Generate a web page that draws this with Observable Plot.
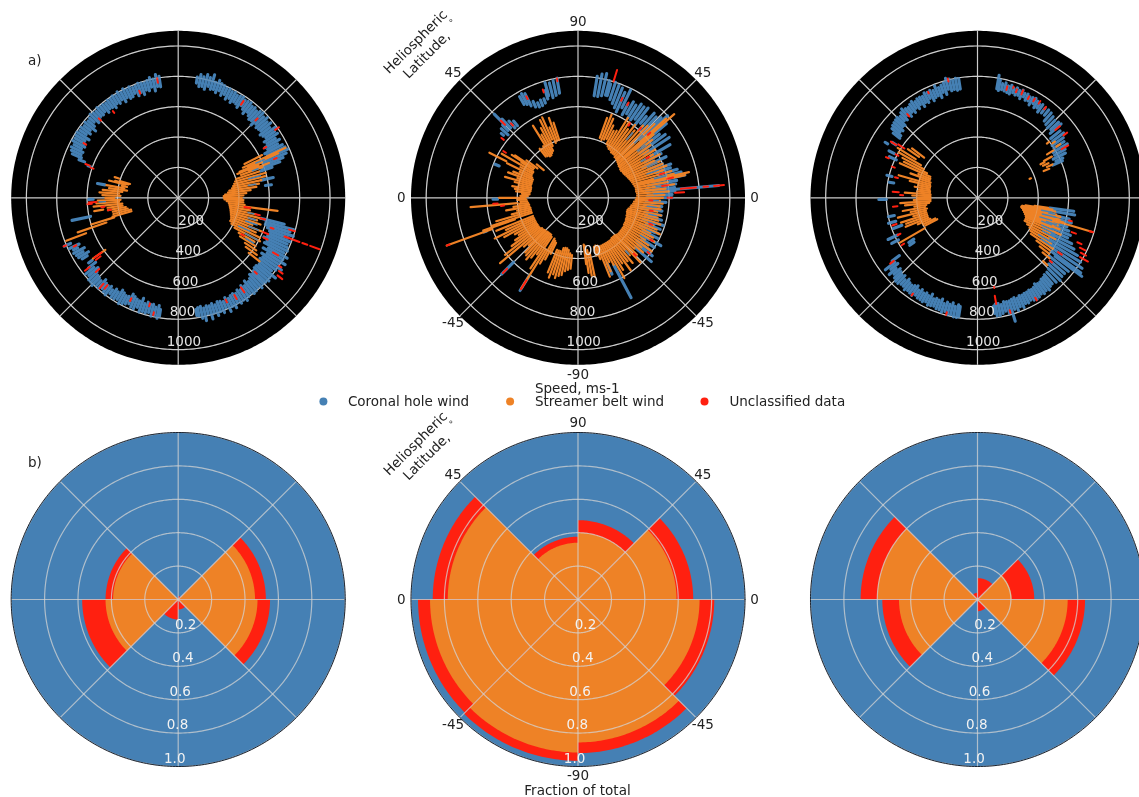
<!DOCTYPE html>
<html><head><meta charset="utf-8">
<style>html,body{margin:0;padding:0;background:#fff}svg{display:block;filter:blur(.45px)}</style>
<script src="https://cdn.jsdelivr.net/npm/d3@7"></script>
<script src="https://cdn.jsdelivr.net/npm/@observablehq/plot@0.6"></script>
</head><body><div id="chart"></div>
<script>
// ---------- values ----------
const classes=["Coronal hole wind","Streamer belt wind","Unclassified data"];
const speedTicks=[200,400,600,800,1000];
const fractionTicks=[0.2,0.4,0.6,0.8,1.0];
const spokeAngles=[0,45,90,135,180,225,270,315];
const latitudeLabels=[[0,"0"],[45,"45"],[90,"90"],[135,"45"],[180,"0"],[225,"-45"],[270,"-90"],[315,"-45"]];

// rows are [polar angle in degrees, lowest speed, highest speed]
const leftCoronal=[[81,765,805],[79.5,745,825],[78,750,815],[76.5,735,835],[75,760,820],[73.5,745,845],[72,750,800],[70.5,735,820],[69,755,805],[67.5,730,800],[66,745,790],[64.5,720,795],[63,735,785],[61.5,715,790],[60,730,780],[58.5,725,785],[57,710,790],[55.5,735,780],[54,720,785],[52.5,700,790],[51,725,775],[49.5,710,780],[48,695,770],[46.5,700,785],[45,680,790],[43.5,705,775],[42,690,790],[40.5,695,770],[39,700,785],[37.5,680,760],[36,690,790],[34.5,700,770],[33,675,780],[31.5,685,750],[30,660,770],[28.5,670,745],[27,640,770],[25.5,650,780],[24,620,790],[22.5,600,770],[21,610,740],[19.5,590,710],[18,570,650],[12,560,640],[8,580,620],
[-14,560,720],[-15.5,600,790],[-17,600,770],[-18.5,620,800],[-20,640,770],[-21.5,650,790],[-23,640,780],[-24.5,620,790],[-26,650,800],[-27.5,640,785],[-29,680,820],[-30.5,650,800],[-32,690,830],[-33.5,660,790],[-35,680,830],[-36.5,670,800],[-38,680,780],[-39.5,690,830],[-41,680,800],[-42.5,680,810],[-44,690,800],[-45.5,700,795],[-47,690,810],[-48.5,710,790],[-50,720,800],[-51.5,700,805],[-53,725,790],[-54.5,710,800],[-56,730,815],[-57.5,720,800],[-59,735,810],[-60.5,725,795],[-62,730,820],[-63.5,740,800],[-65,725,825],[-66.5,745,790],[-68,735,815],[-69.5,730,800],[-71,745,820],[-72.5,730,795],[-74,740,830],[-75.5,735,790],[-77,745,830],[-78.5,730,810],[-80,735,790],[-81,745,785],
[99,740,810],[100.5,745,825],[102,720,800],[103.5,750,815],[105,730,800],[106.5,740,790],[108,715,795],[109.5,735,800],[111,720,790],[112.5,745,785],[114,730,800],[115.5,725,790],[117,740,805],[118.5,720,790],[120,745,805],[121.5,730,790],[123,740,800],[124.5,720,790],[126,735,795],[127.5,740,785],[129,725,790],[130.5,745,790],[132,735,800],[133.5,740,785],[135,730,790],[136.5,720,800],[138,745,785],[139.5,725,780],[141,700,790],[142.5,730,780],[144,715,790],[145.5,735,785],[147,700,795],[148.5,720,790],[150,710,785],[151.5,700,790],[153,715,770],[154.5,695,780],[156,700,770],[157.5,690,755],[159,660,700],[160.5,610,630],
[170,490,540],[181,560,590],[192,590,715],[203,770,815],[205,720,790],[206.5,740,770],[208,700,780],[209.5,720,770],[211,690,765],[212.5,710,750],[216,700,730],[218,690,750],[219.5,720,790],[221,700,780],[222.5,725,800],[224,735,800],[225.5,740,810],[227,745,790],[228.5,720,795],[230,735,780],[231.5,740,790],[233,730,800],[234.5,745,775],[236,725,790],[237.5,735,790],[239,710,780],[240.5,720,800],[242,730,790],[243.5,725,780],[245,700,770],[246.5,710,785],[248,720,790],[249.5,725,770],[251,700,795],[252.5,730,785],[254,715,790],[255.5,725,780],[257,720,800],[258.5,735,790],[260,720,805],[261,745,790]];
const leftStreamer=[[27,490,620],[25,470,780],[24,500,720],[23,440,600],[22,420,570],[21,500,640],[20,440,590],[18,400,560],[16,390,600],[14,380,590],[12,370,560],[10,360,540],[8,340,520],[6,330,480],[4,310,450],[2,300,430],[0,300,420],[-2,305,430],[-4,320,430],[-6,335,440],[-7.5,440,660],[-8,340,470],[-10,345,480],[-12,350,520],[-14,355,560],[-16,360,540],[-18,365,570],[-20,370,520],[-22,375,590],[-24,375,560],[-26,390,600],[-28,420,610],[-30,460,580],[-32,480,600],[-34,530,620],[-36,550,640],[-38,590,680],
[162,410,440],[164,330,400],[165,340,430],[166,360,470],[168,345,380],[170,360,480],[172,340,460],[174,370,500],[176,390,520],[178,380,500],[180,420,480],[182,380,530],[184,390,540],[186,370,560],[188,370,470],[189,500,560],[190,350,470],[192,340,440],[194,320,440],[196,320,450],[197,440,600],[199,500,700],[201,650,790],[215.5,590,690]];
const leftMixed=[[24,560,620],[20,520,560],[15,480,560],[10,470,520],[-16,480,530],[-19,470,550],[-22,500,570],[-25,440,520],[-28,500,590],[-31,520,580],[-12,470,510],[183,480,520]];
const leftOther=[[-20,745,850],[-20,870,905],[-20,925,990],[-38,830,870],[-36,820,850],[-16,760,800],[-18,640,660],[-22,600,640],[-25,620,650],[-12,520,550],[-30,480,500],[-14,560,590],[-8,440,480],[35,780,810],[22,680,700],[30,650,670],[45,720,740],[56,740,770],[-44,700,720],[-55,720,760],[-60,740,770],[-65,740,760],[-30,720,760],[-34,800,820],[215.5,620,680],[217,640,680],[184,570,600],[183,540,590],[160,620,650],[161,590,610],[135,720,740],[127,700,715],[110,730,750],[100,770,800],[231,740,770],[229,750,790],[245,730,750],[255,720,740],[258,770,790],[218,740,780],[222,700,730],[205,740,760],[203,800,820],[150,700,720],[187,490,510],[190,450,470]];

const middleCoronal=[[-62,500,745],[-66,470,550],[-41,500,640],[-38,500,620],[-36,480,590],[-33,500,600],[-30,480,630],[-27,480,590],[-24,450,580],[-21,480,580],[-18,450,590],[-15,460,570],[-12,450,560],[-9,420,560],[-6,440,555],[-3,450,580],[0,450,620],[2,460,620],[4,500,640],[5,500,930],[6,450,640],[8,500,650],[10,470,660],[12,500,720],[14,500,700],[16,550,680],[18,540,640],[20,540,650],[22,500,600],[25,470,640],[28,500,620],[30,550,700],[33.5,520,720],[36,500,710],[38,540,680],[40,500,760],[42.5,560,800],[44,560,760],[46,600,740],[48,600,750],[50,640,700],[52,600,750],[54,640,740],[56,620,745],[58,620,720],[60,640,730],[62,620,700],[64,660,790],[66,620,760],[68,640,780],[70,660,790],[72,680,800],[74,700,780],[75,700,800],[77,690,840],[79,680,830],[81,680,810],
[100,700,800],[102,690,790],[104,680,780],[106,700,790],[107,680,740],[109,660,690],[111,650,690],[113,650,680],[115,660,700],[117,680,770],[118.5,700,780],[120,710,770],[130,620,660],[132,620,680],[134,640,720],[135,680,780],[136,640,690],[138,620,680],[140,640,660],[181,530,560],[158,560,590],[225,600,710],[238,600,720],[200,640,660]];
const middleStreamer=[[70,420,560],[68,410,590],[66,420,570],[64,430,530],[62,400,500],[60,390,510],[58,380,620],[56,380,600],[54,370,560],[52,370,610],[50,370,580],[48,360,640],[46,360,660],[44,355,700],[42,350,780],[41,380,840],[40,345,650],[38,340,620],[36,340,590],[34,335,560],[32,335,600],[30,340,570],[28,340,610],[26,345,560],[24,350,590],[22,355,600],[20,360,620],[18,365,590],[16,370,640],[14,375,650],[13,400,750],[12,380,720],[10,385,600],[8,385,640],[6,385,580],[4,390,600],[2,390,570],[0,385,560],[-2,380,540],[-4,370,560],[-6,365,540],[-8,355,550],[-10,350,530],[-12,340,560],[-14,335,540],[-16,335,550],[-18,340,570],[-20,340,530],[-22,345,560],[-24,345,590],[-26,350,530],[-28,350,560],[-30,350,580],[-32,355,520],[-34,355,560],[-36,355,600],[-38,355,530],[-40,355,560],[-42,355,500],[-44,350,540],[-46,345,590],[-48,345,510],[-50,345,560],[-52,350,530],[-54,350,590],[-56,350,520],[-58,350,560],[-60,350,610],[-62,350,500],[-64,350,470],[-66,350,530],[-68,340,560],[-70,335,430],[-72,340,400],[-78,370,530],[-80,350,520],[-82,320,500],[-83,310,440],
[108,400,520],[110,400,560],[112,390,500],[114,420,580],[116,380,570],[118,350,520],[120,340,480],[122,330,560],[124,330,410],[126,340,400],[128,345,410],[141,290,350],[144,330,420],[146,350,500],[147,380,520],[148,350,440],[150,340,580],[152,340,430],[153,530,655],[154,340,520],[156,330,420],[158,320,460],[160,320,490],[162,320,420],[164,320,500],[166,320,430],[168,315,400],[170,315,440],[172,315,420],[174,320,410],[176,320,370],[178,330,380],[180,345,520],[182,340,400],[184,335,380],[185,400,710],[186,330,390],[188,325,430],[190,325,480],[192,320,410],[194,320,450],[196,320,560],[198,320,600],[199,440,660],[200,600,920],[202,320,580],[204,320,520],[206,320,610],[208,320,550],[210,320,480],[212,320,460],[214,320,500],[216,320,540],[218,320,610],[220,310,670],[222,310,480],[224,305,450],[226,305,500],[228,300,510],[230,300,530],[232,300,500],[234,300,460],[236,310,560],[238,400,700],[240,310,500],[242,320,460],[244,330,410],[248,370,530],[250,370,560],[252,370,530],[254,345,550],[256,340,530],[258,340,520],[260,350,490],[262,370,480],[264,380,470]];
const middleMixed=[[8,520,570],[3,500,560],[-2,470,530],[-7,460,520],[-13,480,530],[-19,490,540],[-25,500,560],[-31,480,540],[14,520,600],[19,480,560],[24,500,570],[-48,470,500],[30,480,530],[38,500,560],[44,520,590],[50,500,560]];
const middleOther=[[5,680,780],[5,830,860],[5,900,965],[3,640,700],[0,590,620],[8,560,600],[12,600,640],[16,560,590],[30,520,540],[42,620,640],[48,600,620],[55,580,600],[62,690,710],[73,800,880],[66,700,720],[-20,500,520],[-30,550,570],[-38,580,600],[-45,520,540],[-10,480,500],[-2,470,490],[238,640,710],[225,660,700],[200,900,920],[186,490,510],[117,730,750],[108,730,750],[100,780,800],[135,680,720],[132,640,660],[184,530,560],[148,560,580],[142,620,640]];

const rightCoronal=[[80,730,820],[79,720,790],[77.5,730,770],[76,725,780],[74.5,720,765],[73,715,775],[71.5,730,760],[70,720,770],[68.5,725,760],[67,710,770],[65.5,730,755],[64,715,760],[62.5,720,750],[61,700,755],[59.5,720,760],[58,700,750],[56.5,710,740],[55,690,750],[53,700,740],[51,700,745],[49,670,740],[47,660,730],[45,650,720],[43,660,730],[41.5,640,735],[39,620,700],[37,620,710],[35,600,690],[33,600,680],[31,580,690],[29,580,660],[27,560,650],[25,570,620],[23.5,540,610],
[-8,480,640],[-10,500,650],[-13,500,620],[-15,500,640],[-18,520,620],[-20,500,640],[-22,520,660],[-24,520,650],[-26,530,690],[-28,540,720],[-30,540,760],[-32,560,800],[-34,580,830],[-36,600,840],[-37,640,860],[-39,610,770],[-41,640,760],[-43,640,760],[-45,660,770],[-47,670,760],[-49,670,750],[-50.5,680,755],[-52,680,770],[-53.5,690,760],[-55,690,770],[-56.5,680,760],[-58,695,770],[-59.5,700,775],[-61,695,770],[-62.5,700,760],[-64,700,770],[-65.5,705,765],[-67,700,785],[-68.5,710,770],[-70,700,790],[-71.5,705,775],[-73,710,850],[-74.5,710,790],[-76,705,770],[-77.5,720,780],[-79,710,790],[-80.5,710,790],[-81.5,720,770],
[99,725,795],[100.5,720,800],[102,730,790],[103.5,725,805],[105,740,815],[106.5,710,790],[108,730,780],[109.5,700,770],[111,720,790],[112.5,715,765],[114,700,775],[115.5,725,770],[117,705,775],[118.5,715,760],[120,695,765],[121.5,720,765],[123,700,755],[124.5,715,770],[126,695,760],[127.5,710,750],[129,690,755],[130.5,715,770],[132,690,755],[133.5,700,740],[135,675,750],[136.5,680,745],[138,660,740],[139.5,670,735],[141,650,725],[142.5,645,700],[147,640,670],[149,690,710],[152,620,660],[155,590,640],[166,580,615],[170,560,590],[181,600,650],[192,560,600],[196,560,610],[200,530,590],[205,580,650],[208,590,640],[213,500,540],[215,510,545],[216.5,640,700],[218,690,770],[219.5,680,740],[221,710,770],[222.5,690,745],[224,700,760],[225.5,710,770],[227,700,770],[228.5,720,760],[230,700,760],[231.5,715,775],[233,720,765],[234.5,710,770],[236,700,775],[237.5,720,760],[239,705,770],[240.5,720,770],[242,710,775],[243.5,720,765],[245,700,780],[246.5,725,775],[248,715,770],[249.5,720,780],[251,705,780],[252.5,730,790],[254,715,780],[255.5,725,795],[257,710,790],[258.5,730,800],[260,715,800],[261,725,795]];
const rightStreamer=[[38,580,600],[33,620,650],[36,610,630],[32,540,590],[29,500,560],[28,470,500],[26,480,520],[24,500,540],[22,470,510],[20,365,375],
[-8,380,470],[-9,320,500],[-10,300,520],[-11,295,480],[-12,295,530],[-13,300,560],[-14,310,500],[-15,310,560],[-16,320,590],[-16.6,420,790],[-17,320,560],[-18,330,520],[-19,330,560],[-20,340,530],[-21,340,580],[-22,345,520],[-24,345,600],[-26,345,530],[-28,370,580],[-30,395,540],[-32,410,570],[-34,424,600],[-36,480,590],[-38,520,600],[-40,560,620],[-44,600,640],
[143,440,540],[145,470,560],[148,480,620],[150,430,600],[152,400,560],[154,370,540],[156,340,560],[158,335,420],[160,335,470],[162,325,400],[164,325,540],[166,320,460],[168,320,400],[170,320,420],[172,315,390],[174,315,400],[176,310,480],[178,310,430],[180,310,400],[182,310,420],[184,310,510],[186,320,480],[188,340,420],[190,350,500],[192,340,450],[194,350,540],[196,350,440],[198,350,530],[200,350,500],[202,350,510],[204,340,430],[206,310,400],[208,300,390],[210,400,590]];
const rightMixed=[[-11,430,500],[-14,440,530],[-17,430,510],[-20,450,520],[-23,460,540],[-25,470,560],[-27,480,570],[-31,470,560],[-33,500,590],[-19,480,550],[-12,480,520]];
const rightOther=[[72,760,770],[70,740,760],[67,740,770],[63,730,750],[60,735,755],[57,740,760],[53,730,750],[41,680,720],[36,700,730],[30,640,690],[75,735,760],[-16.6,770,795],[-28,770,810],[-30,780,840],[-26,750,790],[-24,720,750],[-34,640,670],[-20,660,690],[-14,620,640],[-41,630,650],[-60,760,780],[-74,770,790],[-80,655,710],[-79.5,595,605],[147,640,680],[146,580,630],[152,590,610],[156,640,660],[160,580,600],[166,540,560],[176,520,560],[178,490,510],[186,530,560],[198,560,590],[205,560,580],[212,570,590],[217,690,720],[236,760,775],[255,780,800],[130,700,720],[104,790,810],[115,760,770]];

// one value per 45-degree sector, counter-clockwise from 0 degrees
const leftStreamerShare=[.46,0,0,.39,.435,0,0,.475];
const leftOtherShare=[.065,.02,0,.045,.14,.12,.06,.075];
const middleStreamerShare=[.59,.40,.34,.78,.886,.916,.856,.728];
const middleOtherShare=[.10,.075,.036,.09,.072,.05,.064,.088];
const rightStreamerShare=[.205,0,0,.6,.47,0,0,.54];
const rightOtherShare=[.135,.128,.04,.10,.10,0,.07,.104];

// ---------- layout ----------
const W=1139,H=797,R=167;
const columnX=[177.7,577.5,977],rowY=[197.3,599];
const speedMax=1100,shareMax=1;
const point=(cx,cy,angle,radius)=>{const t=angle*Math.PI/180;return {x:cx+radius*Math.cos(t),y:cy-radius*Math.sin(t)}};

const streaks=[[leftCoronal,leftStreamer,leftOther,leftMixed],[middleCoronal,middleStreamer,middleOther,middleMixed],[rightCoronal,rightStreamer,rightOther,rightMixed]];
const shares=[[leftStreamerShare,leftOtherShare],[middleStreamerShare,middleOtherShare],[rightStreamerShare,rightOtherShare]];

const layers=[[],[],[],[]];
streaks.forEach((groups,c)=>groups.forEach((rows,g)=>rows.forEach(([a,lo,hi])=>{
  const k=R/speedMax,p=point(columnX[c],rowY[0],a,lo*k),q=point(columnX[c],rowY[0],a,hi*k);
  layers[g].push({x1:p.x,y1:p.y,x2:q.x,y2:q.y,cls:classes[g===3?0:g]});
})));

const sweep=(cx,cy,a0,a1,radius,id,extra={})=>{const out=[];for(let a=a0;a<=a1;a++)out.push({...point(cx,cy,a,radius),id,...extra});return out};
const disc=(cx,cy,id,cls)=>sweep(cx,cy,0,360,R,id,{cls});

const wedge=[];let wid=0;
shares.forEach(([st,ot],c)=>{
  const cx=columnX[c],cy=rowY[1];
  st.forEach((s,i)=>{
    const a0=i*45,a1=a0+45;
    const top=s+ot[i];
    if(top>0){const id=wid++;wedge.push({...point(cx,cy,0,0),id,cls:classes[2]},...sweep(cx,cy,a0,a1,top/shareMax*R,id,{cls:classes[2]}));}
    if(s>0){const id=wid++;wedge.push({...point(cx,cy,0,0),id,cls:classes[1]},...sweep(cx,cy,a0,a1,s/shareMax*R,id,{cls:classes[1]}));}
  });
});

const rings=[[],[]],spokes=[[],[]],blackDiscs=[],blueDiscs=[],outlines=[];
let rid=0;
columnX.forEach(cx=>{
  rowY.forEach((cy,row)=>{
    (row?fractionTicks:speedTicks).forEach(v=>{rings[row].push(...sweep(cx,cy,0,360,v/(row?shareMax:speedMax)*R,rid++))});
    spokeAngles.forEach(a=>{const p=point(cx,cy,a,R);spokes[row].push({x1:cx,y1:cy,x2:p.x,y2:p.y})});
  });
  blackDiscs.push(...disc(cx,rowY[0],rid++,"sky"));
  blueDiscs.push(...disc(cx,rowY[1],rid++,classes[0]));
  outlines.push(...sweep(cx,rowY[1],0,360,R,rid++));
});

const LabelR=176.6;
const outer=[];
rowY.forEach(cy=>latitudeLabels.forEach(([a,t])=>outer.push({...point(columnX[1],cy,a,LabelR),t})));

const radial=[];
columnX.forEach(cx=>{
  speedTicks.forEach(v=>{const r=v/speedMax*R;radial.push({x:cx+3-r*.095,y:rowY[0]+r-7.6,t:String(v),tone:"#e4e4e4"})});
  fractionTicks.forEach(v=>{const r=v/shareMax*R;radial.push({x:cx-.5-r*.082,y:rowY[1]+r-8.2,t:v.toFixed(1),tone:"#f2f2f2"})});
});

const legendX=[322.9,509.6,704],legendTextX=[347.4,534.5,728.9],legendY=401;
const titles=[
 {x:34.3,y:60,t:"a)"},{x:34.3,y:461.7,t:"b)"},
 {x:576.7,y:388.3,t:"Speed, ms-1"},{x:577,y:790,t:"Fraction of total"}];
const tilted=[],degreeMarks=[];
rowY.forEach((cy,i)=>{const dy=i?cy-rowY[0]:0;tilted.push(
 {x:415,y:41.5+dy,t:"Heliospheric"},{x:426,y:54.5+dy,t:"Latitude,"});
 degreeMarks.push({x:452,y:21.5+dy,t:"°"})});

const FS=13.5;
const plot=Plot.plot({
  width:W,height:H,margin:0,
  x:{domain:[0,W],range:[0,W],axis:null},
  y:{domain:[0,H],range:[0,H],axis:null},
  color:{domain:[...classes,"sky"],range:["#4580b4","#ee8226","#ff2010","#000000"]},
  style:{background:"#fff",fontFamily:"DejaVu Sans",color:"#222"},
  marks:[
    Plot.line(blackDiscs,{x:"x",y:"y",z:"id",fill:"cls",stroke:null}),
    Plot.line(rings[0],{x:"x",y:"y",z:"id",stroke:"#cccccc",strokeWidth:1.2}),
    Plot.link(spokes[0],{x1:"x1",y1:"y1",x2:"x2",y2:"y2",stroke:"#cccccc",strokeWidth:1.2}),
    Plot.link(layers[0],{x1:"x1",y1:"y1",x2:"x2",y2:"y2",stroke:"cls",strokeWidth:3.1,strokeLinecap:"round"}),
    Plot.link(layers[1],{x1:"x1",y1:"y1",x2:"x2",y2:"y2",stroke:"cls",strokeWidth:2.2,strokeLinecap:"round"}),
    Plot.link(layers[3],{x1:"x1",y1:"y1",x2:"x2",y2:"y2",stroke:"cls",strokeWidth:1.4,strokeLinecap:"round"}),
    Plot.link(layers[2],{x1:"x1",y1:"y1",x2:"x2",y2:"y2",stroke:"cls",strokeWidth:2,strokeLinecap:"round"}),
    Plot.line(rings[0],{x:"x",y:"y",z:"id",stroke:"#d0d0d0",strokeWidth:.9,strokeOpacity:.3}),
    Plot.line(blueDiscs,{x:"x",y:"y",z:"id",fill:"cls",stroke:null}),
    Plot.line(wedge,{x:"x",y:"y",z:"id",fill:"cls",stroke:null}),
    Plot.line(rings[1],{x:"x",y:"y",z:"id",stroke:"#d3d3d3",strokeWidth:1.2,strokeOpacity:.75}),
    Plot.link(spokes[1],{x1:"x1",y1:"y1",x2:"x2",y2:"y2",stroke:"#d3d3d3",strokeWidth:1.2,strokeOpacity:.75}),
    Plot.line(outlines,{x:"x",y:"y",z:"id",stroke:"#1c2430",strokeWidth:1}),
    Plot.text(radial,{x:"x",y:"y",text:"t",fill:"tone",fontSize:FS,textAnchor:"start"}),
    Plot.text(outer,{x:"x",y:"y",text:"t",fill:"#222",fontSize:FS}),
    Plot.text(titles,{x:"x",y:"y",text:"t",fill:"#222",fontSize:FS}),
    Plot.text(tilted,{x:"x",y:"y",text:"t",fill:"#222",fontSize:FS,rotate:-45}),
    Plot.text(degreeMarks,{x:"x",y:"y",text:"t",fill:"#222",fontSize:9,rotate:-45}),
    Plot.dot(classes,{x:(d,i)=>legendX[i],y:()=>legendY,fill:d=>d,r:4,stroke:null}),
    Plot.text(classes,{x:(d,i)=>legendTextX[i],y:()=>legendY,text:d=>d,fill:"#222",fontSize:FS,textAnchor:"start"})
  ]
});
document.getElementById("chart").append(plot);
</script></body></html>
